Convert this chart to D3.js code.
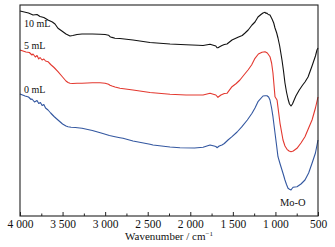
<!DOCTYPE html>
<html><head><meta charset="utf-8">
<script src="https://cdn.jsdelivr.net/npm/d3@7"></script>
<style>html,body{margin:0;padding:0;background:#fff;}svg{display:block;}</style>
</head><body>
<script>
// Wavenumber (cm^-1) and relative transmittance (a.u., offset per curve)
const seriesNames = ["10 mL", "5 mL", "0 mL"];
const wn10 = [4000,3900,3847,3800,3765,3720,3671,3620,3589,3554,3500,3460,3436,3413,3380,3330,3272,3150,3060,3000,2960,2943,2919,2884,2826,2673,2473,2238,2050,1909,1850,1768,1720,1700,1686,1675,1650,1628,1600,1569,1510,1440,1390,1357,1320,1275,1240,1205,1170,1146,1122,1110,1100,1085,1064,1040,1020,1005,985,970,950,923,905,888,870,852,835,817,800,785,760,720,680,653,617,570,530,512,500];
const t10  = [205,203,201,201.5,199.5,198.5,196,194,192,187.7,184.5,182,181,180,180.5,181.5,182,182,181.8,181.5,180.8,179.3,178.6,177.8,177.5,176,173.5,172,171.2,170.7,170.5,171.7,170.5,170,168.3,168.3,169.5,170.5,171.5,172,176,178.7,180.5,183,186,191,194,199,201.5,203,203.7,202.5,203,201.5,201,197,193,188,183,178,170,156,145,133,124,117,112,110,112,115,120,126,131,134,139,150,160,166,168];
const wn5 = [4000,3930,3890,3860,3847,3820,3800,3780,3765,3740,3720,3700,3671,3640,3600,3554,3500,3460,3436,3413,3380,3330,3272,3150,3060,3000,2960,2943,2919,2884,2826,2673,2473,2238,2050,1850,1768,1720,1700,1675,1640,1600,1569,1510,1460,1417,1370,1322,1280,1240,1200,1158,1122,1095,1064,1045,1029,1005,981,946,911,888,864,840,817,790,747,700,653,610,570,530,500];
const t5  = [166,164,163.5,161,162,159,160.5,157,158.5,156,157,155,154.3,151.5,148.5,144.3,139,135,133.5,132.7,132.5,132.7,132.7,133.3,133.3,132.8,131.8,130.8,130,129,127.7,126,123.5,121.7,121,121,122.7,121.5,121,118.7,121,122.5,122.7,129.3,132.5,136,141,146,151,157.7,162,163.7,164.3,163,159.3,153,143,119.3,116,92.7,76,70,66.7,65,64.3,65,67.7,73,79.3,88,96,108,119];
const wn0 = [4000,3940,3900,3870,3859,3830,3800,3780,3760,3740,3720,3700,3671,3640,3600,3554,3500,3460,3436,3400,3350,3272,3150,3037,2950,2884,2826,2790,2673,2473,2438,2238,2121,1950,1850,1768,1720,1700,1686,1660,1628,1600,1557,1510,1450,1393,1330,1275,1240,1205,1146,1120,1099,1080,1064,1045,1029,1005,990,970,945,923,905,888,870,852,835,817,805,793,770,747,700,653,610,570,530,500];
const t0  = [122,120,119,116.5,117,114,115.5,112.5,113.5,110.5,111.5,108,106,103,99.5,96,92,90,89.3,88.8,88.5,87.7,85.5,82.7,80.5,79.3,78.3,77.7,75,71.7,71,69,68.3,68,68.7,71,70,69.5,68.3,70,71,72.5,76,79.3,84,89.3,96,102.7,108,114.3,120,120.2,120.3,119,116,108,99.3,83,73,59.3,52,46,41,36,31.5,27.7,26.8,26,27.5,28.7,29,29.3,32,36,43,52.7,63,76];
const curveColors = ["#111111", "#e3382f", "#3357a0"];
const majorTicks = [4000,3500,3000,2500,2000,1500,1000,500];
const minorTicks = [3750,3250,2750,2250,1750,1250,750];
const xTitle = "Wavenumber / cm";
const annotation = "Mo-O";

const W = 335, H = 247;
const m = {l:20, r:17, t:5, b:31};
const svg = d3.select("body").append("svg").attr("width", W).attr("height", H);
const x = d3.scaleLinear().domain([4000, 500]).range([m.l, W - m.r]);
const y = d3.scaleLinear().domain([0, 211]).range([H - m.b, m.t]);

const data = [
  {name: seriesNames[0], wn: wn10, t: t10},
  {name: seriesNames[1], wn: wn5, t: t5},
  {name: seriesNames[2], wn: wn0, t: t0}
];
const line = d3.line().x(d => x(d[0])).y(d => y(d[1]));
data.forEach((s, i) => {
  const pts = s.wn.map((w, k) => [w, s.t[k]]);
  svg.append("path").datum(pts).attr("d", line)
    .attr("fill", "none").attr("stroke", curveColors[i]).attr("stroke-width", 1.1)
    .attr("stroke-linejoin", "round");
});

// frame
svg.append("rect").attr("x", m.l).attr("y", m.t)
  .attr("width", W - m.r - m.l).attr("height", H - m.b - m.t)
  .attr("fill", "none").attr("stroke", "#222").attr("stroke-width", 1.1);

const serif = "'Liberation Serif', 'Times New Roman', serif";
const fmt = v => d3.format(",")(v).replace(/,/g, " ");
const ax = svg.append("g").attr("transform", `translate(0,${H - m.b})`)
  .call(d3.axisBottom(x).tickValues(majorTicks).tickFormat(fmt).tickSize(-4).tickPadding(4));
ax.select(".domain").remove();
ax.selectAll("line").attr("stroke", "#222");
ax.selectAll("text").attr("font-family", serif)
  .attr("font-size", 11.5).attr("fill", "#111");
const axm = svg.append("g").attr("transform", `translate(0,${H - m.b})`)
  .call(d3.axisBottom(x).tickValues(minorTicks).tickFormat("").tickSize(-2.5));
axm.select(".domain").remove();
axm.selectAll("line").attr("stroke", "#222");

const tt = svg.append("text").attr("x", (m.l + W - m.r) / 2).attr("y", 240)
  .attr("text-anchor", "middle").attr("font-family", serif).attr("font-size", 11).attr("fill", "#111");
tt.append("tspan").text(xTitle);
tt.append("tspan").text("−1").attr("font-size", 7).attr("dy", -4);

// curve labels
const labelY = [27, 49, 93];
seriesNames.forEach((n, i) => {
  svg.append("text").attr("x", 24).attr("y", labelY[i]).text(n)
    .attr("font-family", serif).attr("font-size", 10).attr("fill", "#111");
});
svg.append("text").attr("x", 280).attr("y", 206).text(annotation)
  .attr("font-family", serif).attr("font-size", 10.5).attr("fill", "#111");
</script>
</body></html>
